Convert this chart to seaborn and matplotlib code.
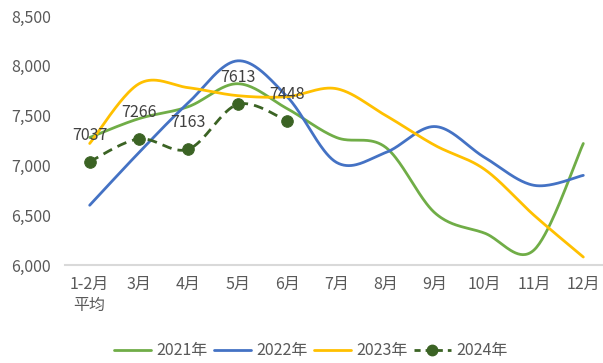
import numpy as np
import pandas as pd
import matplotlib
matplotlib.use("Agg")
import matplotlib.pyplot as plt
from matplotlib.lines import Line2D
from matplotlib.ticker import FuncFormatter
import seaborn as sns

months = ["1-2月\n平均", "3月", "4月", "5月", "6月", "7月", "8月", "9月", "10月", "11月", "12月"]
y2021 = [7280, 7470, 7590, 7820, 7570, 7280, 7180, 6520, 6320, 6150, 7220]
y2022 = [6600, 7130, 7630, 8050, 7690, 7030, 7130, 7390, 7080, 6800, 6900]
y2023 = [7220, 7820, 7780, 7700, 7690, 7770, 7500, 7200, 6960, 6500, 6080]
y2024 = [7037, 7266, 7163, 7613, 7448]
series_names = ["2021年", "2022年", "2023年", "2024年"]
colors = ["#70AD47", "#4472C4", "#FFC000", "#3B6324"]

sns.set_theme(style="white")
plt.rcParams["font.family"] = ["Noto Sans CJK SC", "DejaVu Sans"]


def smooth(xs, ys, n=40):
    """Cubic Bezier smoothing through every point (Catmull-Rom style tangents)."""
    xs = np.asarray(xs, float)
    ys = np.asarray(ys, float)
    px, py = [], []
    m = len(xs)
    for i in range(m - 1):
        i0, i3 = max(i - 1, 0), min(i + 2, m - 1)
        c1x = xs[i] + (xs[i + 1] - xs[i0]) / 6
        c1y = ys[i] + (ys[i + 1] - ys[i0]) / 6
        c2x = xs[i + 1] - (xs[i3] - xs[i]) / 6
        c2y = ys[i + 1] - (ys[i3] - ys[i]) / 6
        t = np.linspace(0, 1, n, endpoint=(i == m - 2))
        a, b, c, d = (1 - t) ** 3, 3 * (1 - t) ** 2 * t, 3 * (1 - t) * t ** 2, t ** 3
        px.append(a * xs[i] + b * c1x + c * c2x + d * xs[i + 1])
        py.append(a * ys[i] + b * c1y + c * c2y + d * ys[i + 1])
    return np.concatenate(px), np.concatenate(py)


frames = []
for name, vals in zip(series_names, [y2021, y2022, y2023, y2024]):
    sx, sy = smooth(np.arange(len(vals)), vals)
    frames.append(pd.DataFrame({"x": sx, "y": sy, "series": name}))
curves = pd.concat(frames, ignore_index=True)

fig = plt.figure(figsize=(6.03, 3.63), dpi=100)
ax = fig.add_axes([65 / 603, 1 - 265 / 363, (608 - 65) / 603, (265 - 16) / 363])

solid = curves[curves["series"] != "2024年"]
sns.lineplot(data=solid, x="x", y="y", hue="series", palette=dict(zip(series_names, colors)),
             sort=False, estimator=None, units="series", linewidth=2.0, ax=ax, legend=False)
dashed = curves[curves["series"] == "2024年"]
sns.lineplot(data=dashed, x="x", y="y", color=colors[3], sort=False, estimator=None,
             linewidth=2.0, ax=ax, legend=False)
ax.lines[-1].set_linestyle((0, (3.5, 2.2)))
pts = pd.DataFrame({"x": np.arange(len(y2024)), "y": y2024})
sns.scatterplot(data=pts, x="x", y="y", color=colors[3], s=70, edgecolor=colors[3], ax=ax, zorder=5)

for i, v in enumerate(y2024):
    ax.annotate(str(v), (i, v), xytext=(0, 13), textcoords="offset points", ha="center",
                va="bottom", fontsize=11.5, color="#404040", zorder=6)

ax.set_xlim(-0.5, len(months) - 0.5)
ax.set_ylim(6000, 8500)
ax.set_yticks([6000, 6500, 7000, 7500, 8000, 8500])
ax.yaxis.set_major_formatter(FuncFormatter(lambda v, p: f"{int(v):,}"))
ax.set_xticks(range(len(months)))
ax.set_xticklabels(months, linespacing=1.3)
ax.tick_params(axis="both", length=0, labelsize=11.5, colors="#595959")
ax.tick_params(axis="x", pad=8)
ax.tick_params(axis="y", pad=10)
ax.set_xlabel("")
ax.set_ylabel("")
for side in ["top", "right", "left"]:
    ax.spines[side].set_visible(False)
ax.spines["bottom"].set_color("#D9D9D9")
ax.spines["bottom"].set_linewidth(1.5)
ax.grid(False)

handles = [Line2D([], [], color=colors[0], lw=2.0),
           Line2D([], [], color=colors[1], lw=2.0),
           Line2D([], [], color=colors[2], lw=2.0),
           Line2D([], [], color=colors[3], lw=2.0, ls=(0, (2.2, 1.8)), marker="o", markersize=7.5)]
fig.legend(handles, series_names, loc="center", bbox_to_anchor=(311 / 603, 1 - 351 / 363),
           ncol=4, frameon=False, fontsize=11.5, labelcolor="#595959", handlelength=2.3,
           handletextpad=0.37, columnspacing=0.37)

fig.savefig("out.png", dpi=100)
